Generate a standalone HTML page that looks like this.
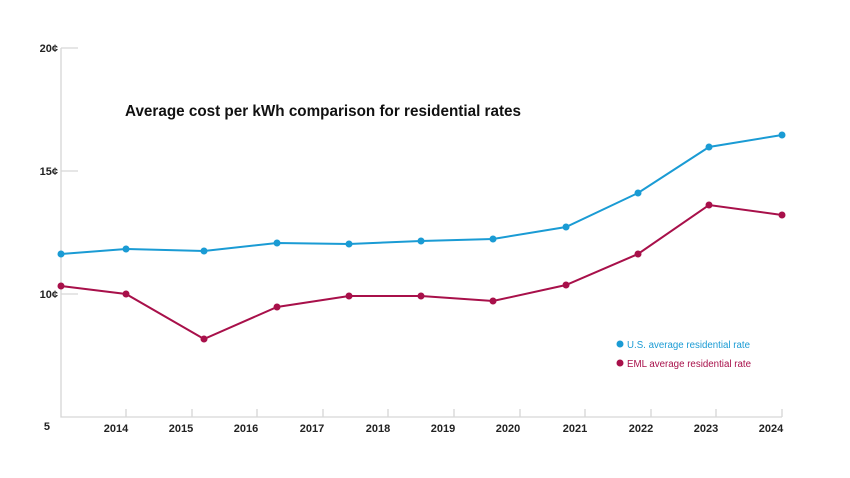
<!DOCTYPE html>
<html><head><style>body{margin:0;background:#fff}svg{display:block}text{font-family:"Liberation Sans",sans-serif}</style></head><body>
<svg width="850" height="478" viewBox="0 0 850 478">
<g stroke="#d6d6d6" stroke-width="1.3" fill="none">
<path d="M61 48V417H782"/>
<path d="M61 48H78M61 171H78M61 294H78"/>
<path d="M126 409V417M192 409V417M257 409V417M323 409V417M388 409V417M454 409V417M520 409V417M585 409V417M651 409V417M716 409V417M782 409V417"/>
</g>
<g font-size="11" font-weight="bold" fill="#222" text-anchor="end">
<text x="58" y="52">20¢</text><text x="58" y="175">15¢</text><text x="58" y="298">10¢</text><text x="50" y="430">5</text>
</g>
<g font-size="11" font-weight="bold" fill="#222" text-anchor="middle">
<text x="116" y="432">2014</text><text x="181" y="432">2015</text><text x="246" y="432">2016</text><text x="312" y="432">2017</text><text x="378" y="432">2018</text><text x="443" y="432">2019</text><text x="508" y="432">2020</text><text x="575" y="432">2021</text><text x="641" y="432">2022</text><text x="706" y="432">2023</text><text x="771" y="432">2024</text>
</g>
<text x="125" y="116" font-size="16" font-weight="bold" fill="#111" textLength="396" lengthAdjust="spacingAndGlyphs">Average cost per kWh comparison for residential rates</text>
<polyline fill="none" stroke="#1a9bd4" stroke-width="2" points="61,254 126,249 204,251 277,243 349,244 421,241 493,239 566,227 638,193 709,147 782,135"/>
<polyline fill="none" stroke="#a8104a" stroke-width="2" points="61,286 126,294 204,339 277,307 349,296 421,296 493,301 566,285 638,254 709,205 782,215"/>
<g fill="#1a9bd4"><circle cx="61" cy="254" r="3.5"/><circle cx="126" cy="249" r="3.5"/><circle cx="204" cy="251" r="3.5"/><circle cx="277" cy="243" r="3.5"/><circle cx="349" cy="244" r="3.5"/><circle cx="421" cy="241" r="3.5"/><circle cx="493" cy="239" r="3.5"/><circle cx="566" cy="227" r="3.5"/><circle cx="638" cy="193" r="3.5"/><circle cx="709" cy="147" r="3.5"/><circle cx="782" cy="135" r="3.5"/>
<circle cx="620" cy="344" r="3.5"/></g>
<g fill="#a8104a"><circle cx="61" cy="286" r="3.5"/><circle cx="126" cy="294" r="3.5"/><circle cx="204" cy="339" r="3.5"/><circle cx="277" cy="307" r="3.5"/><circle cx="349" cy="296" r="3.5"/><circle cx="421" cy="296" r="3.5"/><circle cx="493" cy="301" r="3.5"/><circle cx="566" cy="285" r="3.5"/><circle cx="638" cy="254" r="3.5"/><circle cx="709" cy="205" r="3.5"/><circle cx="782" cy="215" r="3.5"/>
<circle cx="620" cy="363" r="3.5"/></g>
<text x="627" y="348" font-size="10" fill="#1a9bd4" textLength="123" lengthAdjust="spacingAndGlyphs">U.S. average residential rate</text>
<text x="627" y="367" font-size="10" fill="#a8104a" textLength="124" lengthAdjust="spacingAndGlyphs">EML average residential rate</text>
</svg>
</body></html>
